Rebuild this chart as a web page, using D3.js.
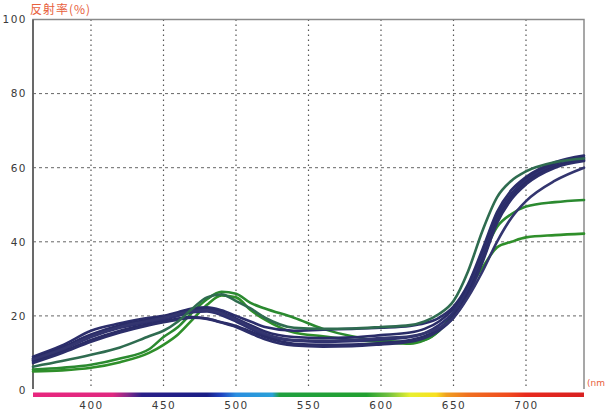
<!DOCTYPE html>
<html>
<head>
<meta charset="utf-8">
<script src="https://cdn.jsdelivr.net/npm/d3@7"></script>
<style>
  html, body { margin: 0; padding: 0; background: #fff; }
  svg { display: block; }
</style>
</head>
<body>
<svg id="chart" width="606" height="415"></svg>
<script>
// Wavelength grid (nm) shared by every reflectance curve
const wavelengths = [360, 380, 400, 420, 440, 450, 460, 470, 480, 490, 500, 510, 520, 540, 560, 580, 600, 620, 630, 640, 650, 660, 670, 680, 690, 700, 720, 740];

// Reflectance (%) per sample
const navy1 = [9.0, 12.0, 16.0, 18.0, 19.5, 20.0, 21.0, 22.0, 22.3, 21.5, 20.0, 18.5, 17.0, 16.0, 16.3, 16.5, 16.8, 17.3, 18.0, 19.5, 22.5, 28.5, 38.0, 48.0, 54.0, 57.5, 61.5, 63.3];
const navy2 = [8.5, 11.5, 15.0, 17.5, 19.0, 19.8, 20.8, 21.8, 22.0, 21.0, 19.3, 17.5, 15.8, 14.3, 14.0, 14.2, 14.8, 15.5, 16.5, 18.5, 22.0, 28.0, 37.0, 47.0, 53.0, 57.0, 61.0, 62.8];
const navy3 = [8.0, 10.8, 14.3, 16.8, 18.3, 19.0, 20.0, 21.0, 21.2, 20.2, 18.5, 16.5, 14.8, 13.3, 13.0, 13.2, 13.6, 14.3, 15.3, 17.5, 21.0, 27.0, 36.0, 46.0, 52.5, 56.5, 60.5, 62.3];
const navy4 = [7.8, 10.3, 13.5, 16.0, 17.8, 18.5, 19.3, 19.7, 19.3, 18.3, 17.3, 15.8, 14.3, 12.5, 12.2, 12.3, 12.7, 13.5, 14.5, 16.5, 20.0, 26.0, 35.0, 45.5, 52.0, 56.0, 60.3, 62.0];
const navy5 = [7.3, 10.0, 13.0, 15.5, 17.5, 18.3, 19.0, 19.5, 19.2, 18.2, 17.0, 15.3, 13.7, 12.0, 11.7, 11.8, 12.3, 13.0, 14.0, 16.0, 19.5, 25.5, 34.5, 45.0, 51.5, 55.5, 60.0, 61.8];
const navy6 = [8.3, 11.0, 14.5, 17.0, 18.7, 19.5, 20.5, 21.3, 21.5, 20.7, 19.0, 17.0, 15.2, 13.5, 13.3, 13.5, 14.0, 14.5, 15.3, 16.8, 19.5, 25.0, 32.0, 40.0, 46.5, 51.0, 56.5, 60.0];
const teal1 = [6.3, 7.8, 9.5, 11.5, 14.5, 16.0, 18.5, 22.0, 25.0, 25.8, 24.0, 22.0, 19.5, 16.8, 16.5, 16.6, 17.0, 17.5, 18.5, 20.5, 24.0, 32.0, 43.0, 52.0, 56.5, 59.0, 61.5, 62.5];
const green1 = [5.5, 6.0, 6.8, 8.5, 11.0, 14.3, 17.0, 21.0, 24.5, 26.5, 26.0, 23.5, 22.0, 19.5, 16.5, 14.5, 13.3, 13.0, 13.5, 16.0, 21.0, 28.0, 36.0, 44.0, 47.5, 49.5, 50.7, 51.3];
const green2 = [5.0, 5.3, 6.0, 7.5, 10.0, 12.2, 15.0, 19.0, 23.0, 25.5, 25.0, 21.6, 19.0, 15.5, 14.5, 13.5, 13.0, 12.5, 13.5, 16.0, 21.0, 27.0, 33.0, 38.5, 40.0, 41.2, 41.8, 42.2];

const series = [
  { name: "green2", values: green2, color: "#2f8f2a" },
  { name: "green1", values: green1, color: "#2b8a30" },
  { name: "navy1", values: navy1, color: "#2c2e6c" },
  { name: "navy2", values: navy2, color: "#2a2c68" },
  { name: "navy3", values: navy3, color: "#2e3070" },
  { name: "navy4", values: navy4, color: "#2a2c66" },
  { name: "navy5", values: navy5, color: "#2c2e6a" },
  { name: "navy6", values: navy6, color: "#33356f" },
  { name: "teal1", values: teal1, color: "#2f6c50" }
];

const xTicks = [400, 450, 500, 550, 600, 650, 700];
const yTicks = [0, 20, 40, 60, 80, 100];

// Visible-spectrum strip under the axis
const spectrumStops = [
  { nm: 360, color: "#e8267e" }, { nm: 415, color: "#e02880" }, { nm: 425, color: "#8a2a8a" },
  { nm: 435, color: "#2a1f88" }, { nm: 480, color: "#1a1e86" }, { nm: 490, color: "#2044c0" },
  { nm: 500, color: "#2a8ee0" }, { nm: 525, color: "#2aa0d8" }, { nm: 530, color: "#20a040" },
  { nm: 590, color: "#22a030" }, { nm: 605, color: "#70c040" }, { nm: 620, color: "#e8f030" },
  { nm: 638, color: "#f8e020" }, { nm: 645, color: "#f0a020" }, { nm: 660, color: "#f07020" },
  { nm: 688, color: "#f04a1e" }, { nm: 700, color: "#e82a1e" }, { nm: 740, color: "#d82020" }
];

const svg = d3.select("#chart");
const x = d3.scaleLinear().domain([360, 740]).range([33, 584]);
const y = d3.scaleLinear().domain([0, 100]).range([390, 19.5]);

const labelFont = "'DejaVu Sans', sans-serif";

// grid: dashed horizontals, dotted verticals
svg.append("g").selectAll("line").data(yTicks.filter(d => d > 0 && d < 100)).join("line")
  .attr("x1", x(360)).attr("x2", x(740))
  .attr("y1", d => y(d)).attr("y2", d => y(d))
  .attr("stroke", "#666").attr("stroke-width", 1).attr("stroke-dasharray", "3,3");
svg.append("g").selectAll("line").data(xTicks).join("line")
  .attr("x1", d => x(d)).attr("x2", d => x(d))
  .attr("y1", y(100)).attr("y2", y(0) - 2)
  .attr("stroke", "#555").attr("stroke-width", 1.2).attr("stroke-dasharray", "1.5,3.5");

// frame: left axis, top and right edges
svg.append("path")
  .attr("d", `M${x(360)},${y(0) - 1}V${y(100)}H${x(740)}V${y(0) - 1}`)
  .attr("fill", "none").attr("stroke", "#8a8a8a").attr("stroke-width", 1.5);
svg.append("line").attr("x1", x(360)).attr("x2", x(360)).attr("y1", y(100)).attr("y2", y(0) - 1)
  .attr("stroke", "#555").attr("stroke-width", 1.5);

// spectrum strip
const grad = svg.append("defs").append("linearGradient").attr("id", "spectrum")
  .attr("gradientUnits", "userSpaceOnUse")
  .attr("x1", x(360)).attr("x2", x(740)).attr("y1", 0).attr("y2", 0);
grad.selectAll("stop").data(spectrumStops).join("stop")
  .attr("offset", d => (d.nm - 360) / 380)
  .attr("stop-color", d => d.color);
svg.append("rect").attr("x", x(360)).attr("y", 392.5).attr("width", x(740) - x(360)).attr("height", 4.5)
  .attr("fill", "url(#spectrum)");

// axis labels via d3 axes with hidden domain/ticks
const yAxis = svg.append("g").attr("transform", `translate(${x(360)},0)`)
  .call(d3.axisLeft(y).tickValues(yTicks).tickSize(0).tickPadding(6));
yAxis.select(".domain").remove();
yAxis.selectAll("text").attr("font-family", labelFont).attr("font-size", 10.5)
  .attr("fill", "#3a3a3a").attr("letter-spacing", "1.5px");

const xAxis = svg.append("g").attr("transform", `translate(0,${y(0)})`)
  .call(d3.axisBottom(x).tickValues(xTicks).tickSize(0).tickPadding(12));
xAxis.select(".domain").remove();
xAxis.selectAll("text").attr("font-family", labelFont).attr("font-size", 10.5)
  .attr("fill", "#3a3a3a").attr("letter-spacing", "1.5px");

// curves
const line = d3.line()
  .x((d, i) => x(wavelengths[i]))
  .y(d => y(d))
  .curve(d3.curveMonotoneX);

svg.append("g").selectAll("path").data(series).join("path")
  .attr("d", d => line(d.values))
  .attr("fill", "none")
  .attr("stroke", d => d.color)
  .attr("stroke-width", 2.6)
  .attr("stroke-linejoin", "round")
  .attr("stroke-linecap", "round");

// titles
svg.append("text").attr("x", 30).attr("y", 14)
  .attr("font-family", "'Noto Sans CJK JP', sans-serif").attr("font-size", 12)
  .attr("fill", "#e8603c").attr("letter-spacing", "1px")
  .text("反射率(%)");
svg.append("text").attr("x", 587).attr("y", 386)
  .attr("font-family", labelFont).attr("font-size", 9)
  .attr("fill", "#e8603c")
  .text("(nm");
</script>
</body>
</html>
